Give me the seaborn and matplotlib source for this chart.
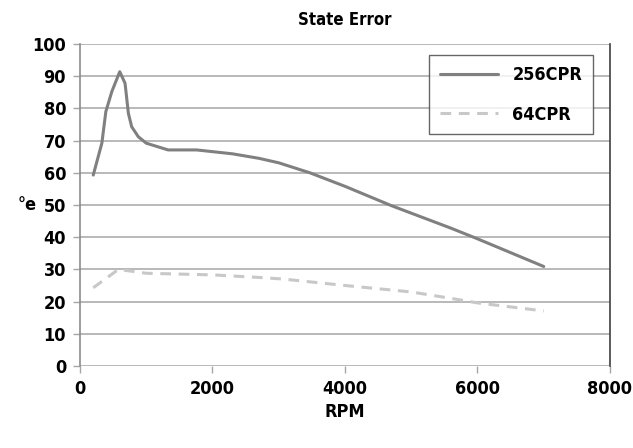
import matplotlib
matplotlib.use("Agg")
import matplotlib.pyplot as plt
import seaborn as sns
import pandas as pd

rpm_256 = [200, 330, 390, 480, 600, 680, 730, 780, 880, 1000, 1330, 1760, 2300, 2700, 3000, 3470, 4000, 4700, 5600, 6000, 7000]
err_256 = [59.3, 69.2, 79.0, 85.2, 91.4, 87.8, 78.5, 74.3, 71.2, 69.2, 67.1, 67.1, 65.9, 64.5, 63.1, 60.0, 55.8, 49.8, 42.8, 39.5, 30.9]
rpm_64 = [200, 580, 1000, 2000, 2700, 3070, 4000, 5000, 5600, 6000, 7000]
err_64 = [24.3, 30.0, 28.8, 28.3, 27.5, 27.0, 25.0, 23.0, 21.0, 19.6, 17.1]
series = ["256CPR", "64CPR"]
x_ticks = [0, 2000, 4000, 6000, 8000]
y_ticks = list(range(0, 101, 10))

df = pd.concat([
    pd.DataFrame({"RPM": rpm_256, "err": err_256, "series": series[0]}),
    pd.DataFrame({"RPM": rpm_64, "err": err_64, "series": series[1]}),
])

sns.set_theme(style="white")
plt.rcParams["font.family"] = ["DejaVu Sans"]
plt.rcParams["font.stretch"] = "condensed"
plt.rcParams["font.weight"] = "bold"
plt.rcParams["text.color"] = "black"
plt.rcParams["axes.labelcolor"] = "black"
plt.rcParams["xtick.labelcolor"] = "black"
plt.rcParams["ytick.labelcolor"] = "black"

fig = plt.figure(figsize=(6.33, 4.48), dpi=100)
ax = fig.add_axes([80/633, 1-366/448, 530/633, 322/448])

sns.lineplot(data=df, x="RPM", y="err", hue="series", style="series",
             palette={"256CPR": "#808080", "64CPR": "#c8c8c8"},
             dashes={"256CPR": "", "64CPR": (3.5, 2.5)},
             linewidth=2.2, ax=ax, sort=False, estimator=None)

ax.set_xlim(0, 8000)
ax.set_ylim(0, 100)
ax.set_xticks(x_ticks)
ax.set_yticks(y_ticks)
ax.yaxis.grid(True, color="#a6a6a6", linewidth=1.1)
ax.xaxis.grid(False)
ax.set_axisbelow(True)
for s in ["top", "bottom"]:
    ax.spines[s].set_visible(False)
ax.spines["left"].set_color("#8c8c8c")
ax.spines["left"].set_linewidth(1.2)
ax.spines["right"].set_color("#404040")
ax.spines["right"].set_linewidth(1.2)
ax.tick_params(axis="both", which="both", length=5, width=1, color="#a6a6a6",
               labelsize=13, direction="out", bottom=True, left=True, pad=5,
               labelcolor="black")
for lab in ax.get_xticklabels() + ax.get_yticklabels():
    lab.set_fontweight("bold")
    lab.set_fontstretch("condensed")

ax.set_title("State Error", fontsize=12, fontweight="bold", pad=14, color="black")
ax.set_xlabel("RPM", fontsize=13, fontweight="bold", labelpad=4, color="black")
ax.set_ylabel("°e", fontsize=13, fontweight="bold", rotation=0, labelpad=4, va="center", color="black")

leg = ax.legend(loc="upper right", bbox_to_anchor=((593-80)/530, (366-55)/322), bbox_transform=ax.transAxes,
                frameon=True, fontsize=13, handlelength=3.2, labelspacing=1.2,
                borderpad=0.6, handletextpad=0.8, fancybox=False, borderaxespad=0)
leg.get_frame().set_edgecolor("#404040")
leg.get_frame().set_linewidth(1.0)
for t in leg.get_texts():
    t.set_fontweight("bold")
    t.set_color("black")

fig.savefig("out.png", dpi=100)
